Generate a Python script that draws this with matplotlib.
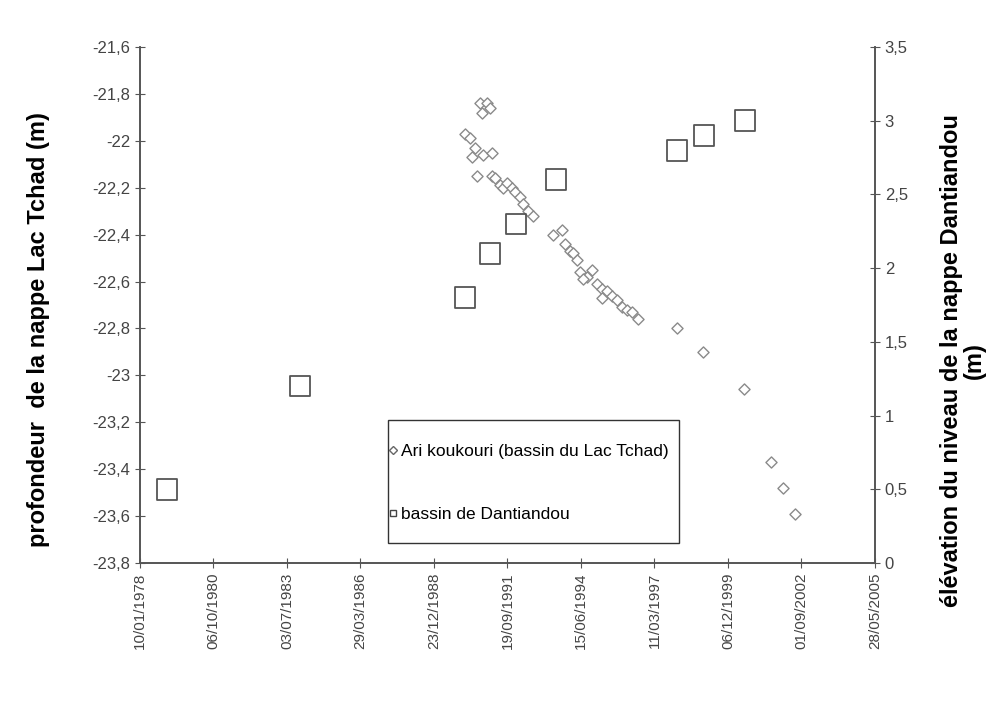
import datetime as dt
import matplotlib
matplotlib.use("Agg")
import matplotlib.pyplot as plt
from matplotlib.ticker import FuncFormatter, FixedLocator
from matplotlib.lines import Line2D
from matplotlib.patches import Rectangle

plt.rcParams["font.family"] = ["Liberation Sans", "DejaVu Sans"]

# dates as Excel serial day numbers
ari_dates = [33126, 33221, 33262, 33153, 32922, 32990, 33058, 33017, 33167, 33289,
             33085, 33289, 33330, 33398, 33439, 33493, 33561, 33602, 33670, 33711,
             33779, 33847, 34119, 34241, 34282, 34350, 34391, 34446, 34486, 34650,
             34582, 34527, 34718, 34786, 34854, 34922, 34786, 34990, 35058, 35126,
             35194, 35276, 35806, 36160, 36718, 37085, 37248, 37412]
ari_depth = [-21.84, -21.84, -21.86, -21.88, -21.97, -21.99, -22.03, -22.07, -22.06, -22.05,
             -22.15, -22.15, -22.16, -22.19, -22.20, -22.18, -22.20, -22.22, -22.24, -22.27,
             -22.30, -22.32, -22.40, -22.38, -22.44, -22.47, -22.48, -22.51, -22.56, -22.55,
             -22.58, -22.59, -22.61, -22.63, -22.64, -22.66, -22.67, -22.68, -22.71, -22.72,
             -22.73, -22.76, -22.80, -22.90, -23.06, -23.37, -23.48, -23.59]

dan_dates = [28867, 30677, 32922, 33262, 33616, 34160, 35806, 36173, 36731]
dan_level = [0.5, 1.2, 1.8, 2.1, 2.3, 2.6, 2.8, 2.9, 3.0]

x_ticks = list(range(28500, 38501, 1000))
left_ticks = [-21.6 - 0.2 * i for i in range(12)]
right_ticks = [0, 0.5, 1, 1.5, 2, 2.5, 3, 3.5]


def serial_to_str(v, pos=None):
    d = dt.date(1899, 12, 30) + dt.timedelta(days=int(round(v)))
    return d.strftime("%d/%m/%Y")


def comma(v, pos=None):
    s = f"{v:.1f}".rstrip("0").rstrip(".")
    if s == "-0":
        s = "0"
    return s.replace(".", ",")


fig = plt.figure(figsize=(9.9, 7.04), dpi=100)
ax = fig.add_axes([0.1414, 0.2003, 0.7424, 0.7329])
ax2 = ax.twinx()

ax.scatter(ari_dates, ari_depth, marker="D", s=32, facecolors="white",
           edgecolors="#8a8a8a", linewidths=1.0, zorder=3)
ax2.scatter(dan_dates, dan_level, marker="s", s=220, facecolors="none",
            edgecolors="#555555", linewidths=1.3, zorder=3)

ax.set_xlim(28500, 38500)
ax.set_ylim(-23.8, -21.6)
ax2.set_ylim(0, 3.5)

ax.xaxis.set_major_locator(FixedLocator(x_ticks))
ax.xaxis.set_major_formatter(FuncFormatter(serial_to_str))
ax.yaxis.set_major_locator(FixedLocator(left_ticks))
ax.yaxis.set_major_formatter(FuncFormatter(comma))
ax2.yaxis.set_major_locator(FixedLocator(right_ticks))
ax2.yaxis.set_major_formatter(FuncFormatter(comma))

for a in (ax, ax2):
    a.spines["top"].set_visible(False)
    for s in a.spines.values():
        s.set_color("#555555")
        s.set_linewidth(1.2)
ax.tick_params(axis="x", direction="inout", length=7, color="#555555",
               labelsize=11, labelcolor="#444444")
ax.tick_params(axis="y", direction="inout", length=7, color="#555555",
               labelsize=12, labelcolor="#444444")
ax2.tick_params(axis="y", direction="inout", length=7, color="#555555",
                labelsize=12, labelcolor="#444444")
plt.setp(ax.get_xticklabels(), rotation=90)

ax.set_ylabel("profondeur  de la nappe Lac Tchad (m)", fontsize=17,
              fontweight="bold")
ax.yaxis.set_label_coords(-0.122, 0.452)
ax2.set_ylabel("élévation du niveau de la nappe Dantiandou\n(m)", fontsize=17,
               fontweight="bold", linespacing=1.0)
ax2.yaxis.set_label_coords(1.088, 0.393)

# legend box
ax2.add_patch(Rectangle((0.3374, 0.0388), 0.396, 0.2384, transform=ax2.transAxes,
                        facecolor="white", edgecolor="#333333", linewidth=1.0,
                        zorder=4))
handles = [
    Line2D([], [], marker="D", linestyle="none", markersize=4,
           markerfacecolor="white", markeredgecolor="#666666"),
    Line2D([], [], marker="s", linestyle="none", markersize=5,
           markerfacecolor="white", markeredgecolor="#444444"),
]
leg = ax2.legend(handles, ["Ari koukouri (bassin du Lac Tchad)", "bassin de Dantiandou"],
                 loc="upper left", bbox_to_anchor=(0.338, 0.2306),
                 fontsize=12.5, frameon=False, labelspacing=2.75,
                 handlelength=0.5, handletextpad=0.2, borderpad=0,
                 borderaxespad=0)
leg.set_zorder(5)

fig.savefig("out.png", dpi=100)
